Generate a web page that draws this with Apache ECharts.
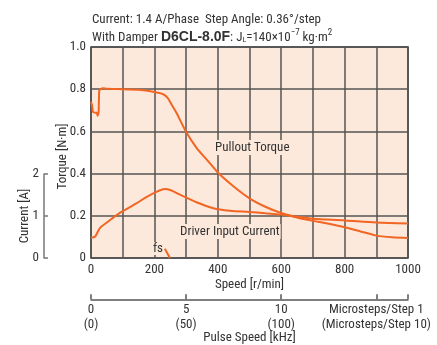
<!DOCTYPE html>
<html><head><meta charset="utf-8">
<script src="https://cdn.jsdelivr.net/npm/echarts@6/dist/echarts.min.js"></script>
<style>html,body{margin:0;padding:0;background:#fff}#c{width:437px;height:345px}</style>
</head><body><div id="c"></div>
<script>
// Speed [r/min] vs Pullout torque [N·m]
const pulloutSpeed = [0,3,6,9,14,18,21,24,26,30,37,50,100,150,196,228,243,257,270,297,334,370,400,450,500,550,600,650,700,750,800,850,900,950,1000];
const pulloutTorque = [0.74,0.725,0.693,0.69,0.688,0.69,0.674,0.69,0.795,0.80,0.805,0.802,0.80,0.797,0.788,0.776,0.757,0.72,0.687,0.606,0.52,0.458,0.405,0.339,0.283,0.243,0.213,0.192,0.176,0.162,0.146,0.126,0.106,0.098,0.095];
// Speed [r/min] vs Driver input current [A]
const currentSpeed = [0,13,28,50,91,140,176,210,233,250,281,333,386,438,500,550,600,650,700,800,900,1000];
const currentAmps = [0.48,0.51,0.71,0.84,1.07,1.28,1.45,1.58,1.635,1.61,1.5,1.32,1.18,1.12,1.09,1.06,1.03,0.98,0.93,0.89,0.84,0.82];
// fs (max starting frequency) segment
const fsSpeed = [233,249];
const fsTorque = [0.044,0];
const speedTicks = [0,200,400,600,800,1000];
const pulseTickLabels = {0:['0','(0)'],5:['5','(50)'],10:['10','(100)'],15:['Microsteps/Step 1','(Microsteps/Step 10)']};

const FONT = "'Liberation Sans Narrow','Arial Narrow','Roboto Condensed',sans-serif";
const TXT = '#333';
const LINE = '#f26522';
const BG = '#fde9dc';
const GRID = '#555';

const zip = (a,b)=>a.map((v,i)=>[v,b[i]]);
const chart = echarts.init(document.getElementById('c'));
chart.setOption({
  animation:false,
  textStyle:{fontFamily:FONT},
  grid:[
    {left:91,top:47,width:317,height:211,show:true,backgroundColor:BG,borderColor:'#333',borderWidth:1.5},
    {left:44,top:174,width:1,height:84},
    {left:91,top:299,width:317,height:1}
  ],
  xAxis:[
    {gridIndex:0,type:'value',min:0,max:1000,interval:100,
     axisLine:{show:false},axisTick:{show:false},
     splitLine:{show:true,lineStyle:{color:GRID,width:1.5}},
     axisLabel:{color:TXT,fontSize:13,margin:5,formatter:v=>speedTicks.includes(v)?String(v):''},
     name:'Speed [r/min]',nameLocation:'middle',nameGap:20,nameMoveOverlap:false,nameTextStyle:{color:TXT,fontSize:13}},
    {gridIndex:1,type:'value',show:false,min:0,max:1},
    {gridIndex:2,type:'value',min:0,max:1000/60,interval:5,position:'bottom',
     axisLine:{show:true,lineStyle:{color:'#555',width:1.5}},
     axisTick:{show:true,inside:true,length:5,lineStyle:{color:'#555',width:1.5}},
     splitLine:{show:false},
     axisLabel:{color:TXT,fontSize:13,margin:3,lineHeight:15,formatter:v=>{const k=Math.round(v);return pulseTickLabels[k]?pulseTickLabels[k].join('\n'):'';}},
     name:'Pulse Speed [kHz]',nameLocation:'middle',nameGap:32,nameMoveOverlap:false,nameTextStyle:{color:TXT,fontSize:13}}
  ],
  yAxis:[
    {gridIndex:0,type:'value',min:0,max:1,interval:0.2,
     axisLine:{show:false},axisTick:{show:false},
     splitLine:{show:true,lineStyle:{color:GRID,width:1.5}},
     axisLabel:{color:TXT,fontSize:13,margin:5,formatter:v=>v===0?'0':v.toFixed(1)},
     name:'Torque [N·m]',nameLocation:'middle',nameGap:22,nameMoveOverlap:false,nameTextStyle:{color:TXT,fontSize:13,padding:[0,8,0,0]}},
    {gridIndex:0,type:'value',min:0,max:5,show:false,splitLine:{show:false}},
    {gridIndex:1,type:'value',min:0,max:2,interval:1,
     axisLine:{show:true,lineStyle:{color:'#777',width:1.5}},
     axisTick:{show:true,inside:true,length:4,lineStyle:{color:'#777',width:1.5}},
     splitLine:{show:false},
     axisLabel:{color:TXT,fontSize:13,margin:5},
     name:'Current [A]',nameLocation:'middle',nameGap:13,nameMoveOverlap:false,nameTextStyle:{color:TXT,fontSize:13}},
    {gridIndex:2,type:'value',min:0,max:1,show:false}
  ],
  series:[
    {type:'line',xAxisIndex:0,yAxisIndex:0,data:zip(pulloutSpeed,pulloutTorque),showSymbol:false,smooth:0.15,lineStyle:{color:LINE,width:2},z:5},
    {type:'line',xAxisIndex:0,yAxisIndex:1,data:zip(currentSpeed,currentAmps),showSymbol:false,smooth:0.3,lineStyle:{color:LINE,width:2},z:5},
    {type:'line',xAxisIndex:0,yAxisIndex:0,data:zip(fsSpeed,fsTorque),showSymbol:false,lineStyle:{color:LINE,width:2},z:5}
  ],
  graphic:[
    {type:'text',left:92,top:13,style:{text:'Current: 1.4 A/Phase  Step Angle: 0.36°/step',fontSize:13,fontFamily:FONT,fill:TXT}},
    {type:'text',left:92,top:28,style:{
      text:'{n|With Damper }{b|D6CL-8.0F}{n|: J}{s|L}{n|=140×10}{p|−7}{n| kg·m}{p|2}',
      rich:{
        n:{fontSize:13,fontFamily:FONT,fill:TXT,lineHeight:16,verticalAlign:'bottom'},
        b:{fontSize:14,fontWeight:'bold',fontFamily:'Liberation Sans,Arial,sans-serif',fill:TXT,lineHeight:16,verticalAlign:'bottom'},
        s:{fontSize:8,fontFamily:FONT,fill:TXT,lineHeight:12,verticalAlign:'bottom'},
        p:{fontSize:9,fontFamily:FONT,fill:TXT,lineHeight:16,verticalAlign:'top'}
      }}},
    {type:'text',left:214,top:140,z:10,style:{text:'Pullout Torque',fontSize:13,fontFamily:FONT,fill:TXT,backgroundColor:BG,padding:[1,1]}},
    {type:'text',left:179,top:224,z:10,style:{text:'Driver Input Current',fontSize:13,fontFamily:FONT,fill:TXT,backgroundColor:BG,padding:[1,1]}},
    {type:'text',left:152,top:242,z:10,style:{text:'fs',fontSize:13,fontFamily:FONT,fill:TXT,backgroundColor:BG,padding:[0,1]}}
  ]
});
</script></body></html>
